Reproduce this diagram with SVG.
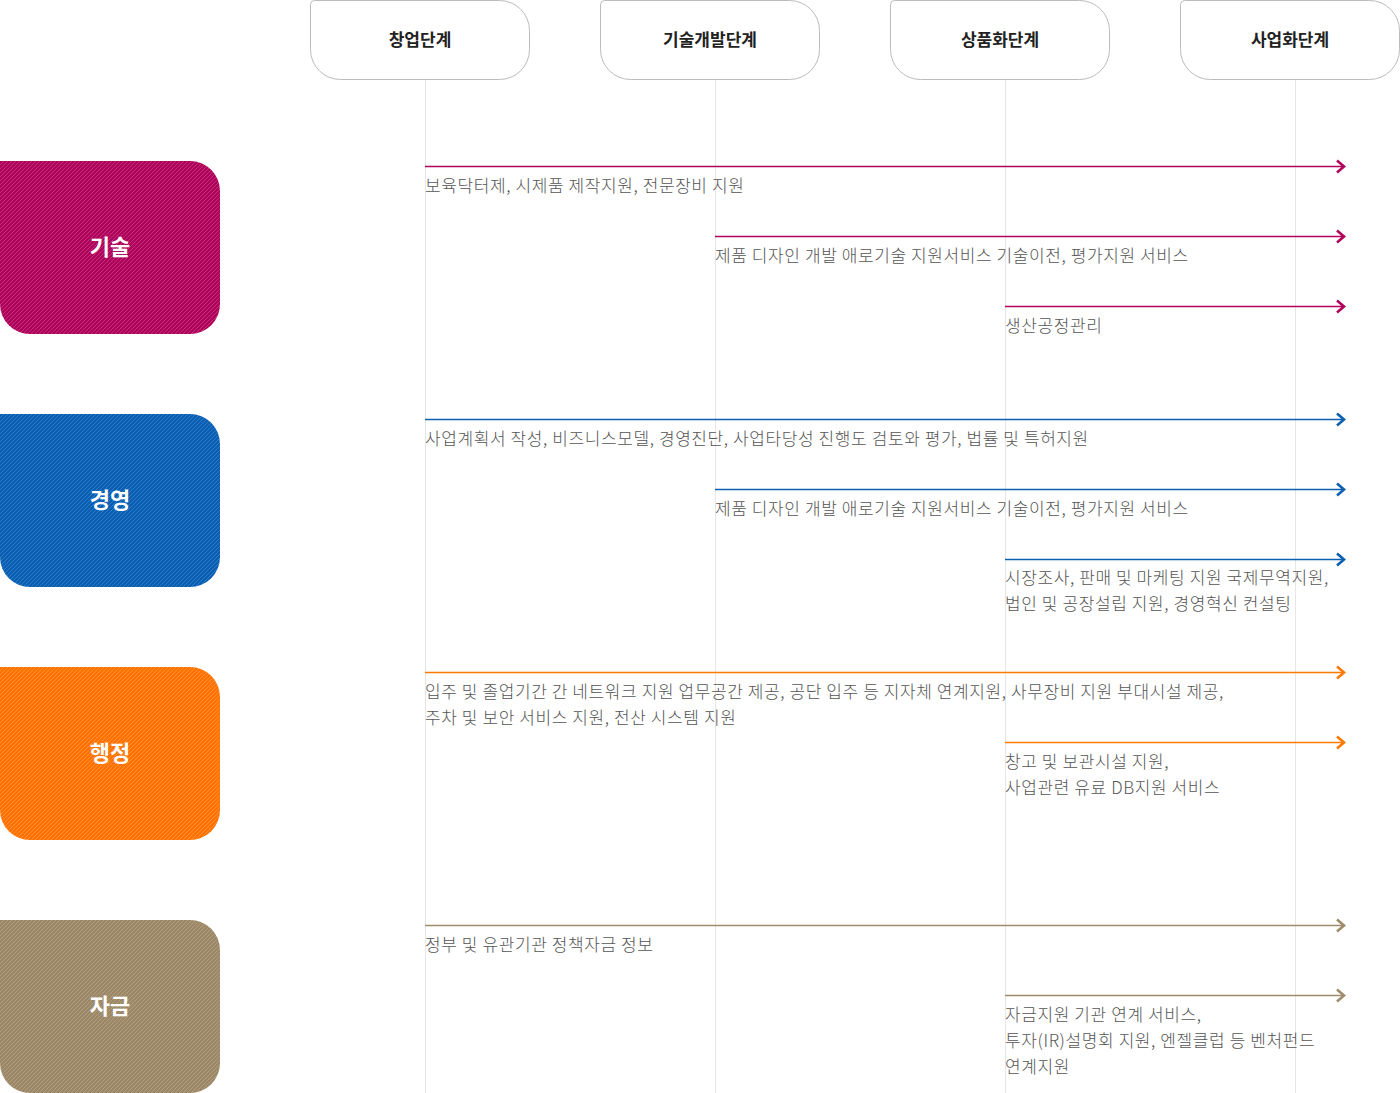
<svg xmlns="http://www.w3.org/2000/svg" width="1400" height="1093" viewBox="0 0 1400 1093">
  <style>
    .hdr path { fill: #ffffff; stroke: #bcbcbc; stroke-width: 1; }
    .hdr text { font-family: "Noto Sans CJK KR", "Noto Sans", sans-serif; font-size: 17px; font-weight: 700; fill: #222222; text-anchor: middle; }
    .cat text { font-family: "Noto Sans CJK KR", "Noto Sans", sans-serif; font-size: 22px; font-weight: 700; fill: #ffffff; text-anchor: middle; }
    .grid line { stroke: #e6e6e6; stroke-width: 1; }
    .lbl { font-family: "Noto Sans CJK KR", "Noto Sans", sans-serif; font-size: 17px; font-weight: 300; letter-spacing: 0.6px; fill: #555555; }
    .c-tech { stroke: #b0045e; stroke-width: 1.5; fill: none; marker-end: url(#m-tech); }
    .c-mgmt { stroke: #0d5fb0; stroke-width: 1.5; fill: none; marker-end: url(#m-mgmt); }
    .c-adm { stroke: #ff7a00; stroke-width: 1.5; fill: none; marker-end: url(#m-adm); }
    .c-fund { stroke: #a08c6a; stroke-width: 1.5; fill: none; marker-end: url(#m-fund); }
  </style>
  <defs>
    <pattern id="p-tech" patternUnits="userSpaceOnUse" width="4" height="4">
      <rect width="4" height="4" fill="#ae025b"/>
      <path d="M-1,1 L1,-1 M0,4 L4,0 M3,5 L5,3" stroke="#c3307a" stroke-width="1"/>
    </pattern>
    <pattern id="p-mgmt" patternUnits="userSpaceOnUse" width="4" height="4">
      <rect width="4" height="4" fill="#0a5eb2"/>
      <path d="M-1,1 L1,-1 M0,4 L4,0 M3,5 L5,3" stroke="#2f7dc8" stroke-width="1"/>
    </pattern>
    <pattern id="p-adm" patternUnits="userSpaceOnUse" width="4" height="4">
      <rect width="4" height="4" fill="#ff7100"/>
      <path d="M-1,1 L1,-1 M0,4 L4,0 M3,5 L5,3" stroke="#ff9032" stroke-width="1"/>
    </pattern>
    <pattern id="p-fund" patternUnits="userSpaceOnUse" width="4" height="4">
      <rect width="4" height="4" fill="#9c8866"/>
      <path d="M-1,1 L1,-1 M0,4 L4,0 M3,5 L5,3" stroke="#ae9d7e" stroke-width="1"/>
    </pattern>
    <marker id="m-tech" markerUnits="userSpaceOnUse" markerWidth="16" markerHeight="16" viewBox="-10 -8 12 16" refX="0" refY="0" orient="auto" overflow="visible">
      <path d="M-7,-6 L0,0 L-7,6" fill="none" stroke="#b0045e" stroke-width="2.6"/>
    </marker>
    <marker id="m-mgmt" markerUnits="userSpaceOnUse" markerWidth="16" markerHeight="16" viewBox="-10 -8 12 16" refX="0" refY="0" orient="auto" overflow="visible">
      <path d="M-7,-6 L0,0 L-7,6" fill="none" stroke="#0d5fb0" stroke-width="2.6"/>
    </marker>
    <marker id="m-adm" markerUnits="userSpaceOnUse" markerWidth="16" markerHeight="16" viewBox="-10 -8 12 16" refX="0" refY="0" orient="auto" overflow="visible">
      <path d="M-7,-6 L0,0 L-7,6" fill="none" stroke="#ff7a00" stroke-width="2.6"/>
    </marker>
    <marker id="m-fund" markerUnits="userSpaceOnUse" markerWidth="16" markerHeight="16" viewBox="-10 -8 12 16" refX="0" refY="0" orient="auto" overflow="visible">
      <path d="M-7,-6 L0,0 L-7,6" fill="none" stroke="#a08c6a" stroke-width="2.6"/>
    </marker>
    <path id="catShape" d="M0,0 H190 A30,30 0 0 1 220,30 V143 A30,30 0 0 1 190,173 H30 A30,30 0 0 1 0,143 Z"/>
  </defs>

  <rect width="1400" height="1093" fill="#ffffff"/>

  <g class="grid" id="gridlines">
    <line x1="425.5" y1="80" x2="425.5" y2="1093"/>
    <line x1="715.5" y1="80" x2="715.5" y2="1093"/>
    <line x1="1005.5" y1="80" x2="1005.5" y2="1093"/>
    <line x1="1295.5" y1="80" x2="1295.5" y2="1093"/>
  </g>

  <g id="stage-startup" class="hdr" transform="translate(310,0)">
    <path d="M4.5,0.5 H189.5 A30,30 0 0 1 219.5,30.5 V49.5 A30,30 0 0 1 189.5,79.5 H30.5 A30,30 0 0 1 0.5,49.5 V4.5 A4,4 0 0 1 4.5,0.5 Z"/>
    <text x="110" y="46">창업단계</text>
  </g>
  <g id="stage-techdev" class="hdr" transform="translate(600,0)">
    <path d="M4.5,0.5 H189.5 A30,30 0 0 1 219.5,30.5 V49.5 A30,30 0 0 1 189.5,79.5 H30.5 A30,30 0 0 1 0.5,49.5 V4.5 A4,4 0 0 1 4.5,0.5 Z"/>
    <text x="110" y="46">기술개발단계</text>
  </g>
  <g id="stage-commercial" class="hdr" transform="translate(890,0)">
    <path d="M4.5,0.5 H189.5 A30,30 0 0 1 219.5,30.5 V49.5 A30,30 0 0 1 189.5,79.5 H30.5 A30,30 0 0 1 0.5,49.5 V4.5 A4,4 0 0 1 4.5,0.5 Z"/>
    <text x="110" y="46">상품화단계</text>
  </g>
  <g id="stage-business" class="hdr" transform="translate(1180,0)">
    <path d="M4.5,0.5 H189.5 A30,30 0 0 1 219.5,30.5 V49.5 A30,30 0 0 1 189.5,79.5 H30.5 A30,30 0 0 1 0.5,49.5 V4.5 A4,4 0 0 1 4.5,0.5 Z"/>
    <text x="110" y="46">사업화단계</text>
  </g>

  <g id="cat-tech" class="cat" transform="translate(0,161)">
    <use href="#catShape" fill="url(#p-tech)"/>
    <text x="110" y="94">기술</text>
  </g>
  <g id="cat-mgmt" class="cat" transform="translate(0,414)">
    <use href="#catShape" fill="url(#p-mgmt)"/>
    <text x="110" y="94">경영</text>
  </g>
  <g id="cat-admin" class="cat" transform="translate(0,667)">
    <use href="#catShape" fill="url(#p-adm)"/>
    <text x="110" y="94">행정</text>
  </g>
  <g id="cat-fund" class="cat" transform="translate(0,920)">
    <use href="#catShape" fill="url(#p-fund)"/>
    <text x="110" y="94">자금</text>
  </g>

  <g id="connectors">
    <line class="c-tech" x1="425" y1="166.5" x2="1344" y2="166.5"/>
    <line class="c-tech" x1="715" y1="236.5" x2="1344" y2="236.5"/>
    <line class="c-tech" x1="1005" y1="306.5" x2="1344" y2="306.5"/>
    <line class="c-mgmt" x1="425" y1="419.5" x2="1344" y2="419.5"/>
    <line class="c-mgmt" x1="715" y1="489.5" x2="1344" y2="489.5"/>
    <line class="c-mgmt" x1="1005" y1="559.5" x2="1344" y2="559.5"/>
    <line class="c-adm" x1="425" y1="672.5" x2="1344" y2="672.5"/>
    <line class="c-adm" x1="1005" y1="742.5" x2="1344" y2="742.5"/>
    <line class="c-fund" x1="425" y1="925.5" x2="1344" y2="925.5"/>
    <line class="c-fund" x1="1005" y1="995.5" x2="1344" y2="995.5"/>
  </g>

  <g id="labels" class="lbl">
    <text x="425" y="192">보육닥터제, 시제품 제작지원, 전문장비 지원</text>
    <text x="715" y="262">제품 디자인 개발 애로기술 지원서비스 기술이전, 평가지원 서비스</text>
    <text x="1005" y="332">생산공정관리</text>
    <text x="425" y="445">사업계획서 작성, 비즈니스모델, 경영진단, 사업타당성 진행도 검토와 평가, 법률 및 특허지원</text>
    <text x="715" y="515">제품 디자인 개발 애로기술 지원서비스 기술이전, 평가지원 서비스</text>
    <text x="1005" y="584">시장조사, 판매 및 마케팅 지원 국제무역지원,</text>
    <text x="1005" y="610">법인 및 공장설립 지원, 경영혁신 컨설팅</text>
    <text x="425" y="698">입주 및 졸업기간 간 네트워크 지원 업무공간 제공, 공단 입주 등 지자체 연계지원, 사무장비 지원 부대시설 제공,</text>
    <text x="425" y="724">주차 및 보안 서비스 지원, 전산 시스템 지원</text>
    <text x="1005" y="768">창고 및 보관시설 지원,</text>
    <text x="1005" y="794">사업관련 유료 DB지원 서비스</text>
    <text x="425" y="951">정부 및 유관기관 정책자금 정보</text>
    <text x="1005" y="1021">자금지원 기관 연계 서비스,</text>
    <text x="1005" y="1047">투자(IR)설명회 지원, 엔젤클럽 등 벤처펀드</text>
    <text x="1005" y="1073">연계지원</text>
  </g>
</svg>
